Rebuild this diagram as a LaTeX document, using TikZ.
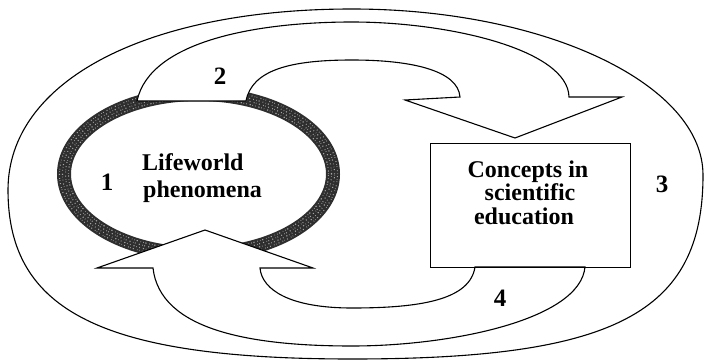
\documentclass[tikz,border=0pt]{standalone}
\usepackage{fontspec}
\setmainfont{Liberation Serif}
\begin{document}
\begin{tikzpicture}[x=1pt,y=-1pt,
  outline/.style={draw=black, line width=1.1pt, line join=miter},
  bigarrow/.style={outline, fill=white},
  lbl/.style={font=\fontsize{24}{26}\selectfont\bfseries, inner sep=0pt},
  num/.style={font=\fontsize{25}{27}\selectfont\bfseries, inner sep=0pt},
  ringbase/.style={line width=14pt, draw=black!82},
  ringspeck/.style={line width=1.1pt, draw=black!35}]
\useasboundingbox (0,0) rectangle (704,361);
% outer closed loop
\coordinate (oL) at (8,190);
\coordinate (oT) at (352,9);
\coordinate (oR) at (703,175);
\coordinate (oB) at (352,359);
\draw[outline] (oL) .. controls (8,81) and (146,9) .. (oT)
  .. controls (545,9) and (703,84) .. (oR)
  .. controls (703,313) and (615,359) .. (oB)
  .. controls (104,359) and (8,312) .. (oL) -- cycle;
% lifeworld ring
\coordinate (rc) at (198.5,174);
\draw[ringbase] (rc) ellipse [x radius=134.5pt, y radius=80pt];
\draw[ringspeck, dash pattern=on 0.6pt off 1.7pt on 1.2pt off 2.9pt on 0.5pt off 2.2pt]
  (rc) ellipse [x radius=130pt, y radius=75.5pt];
\draw[ringspeck, dash pattern=on 1pt off 2.6pt on 0.5pt off 1.5pt on 0.8pt off 3.3pt]
  (rc) ellipse [x radius=133pt, y radius=78.5pt];
\draw[ringspeck, dash pattern=on 0.7pt off 3.1pt on 1.1pt off 1.9pt on 0.5pt off 2.5pt]
  (rc) ellipse [x radius=136pt, y radius=81.5pt];
\draw[ringspeck, dash pattern=on 0.5pt off 2.3pt on 0.9pt off 3.4pt on 0.6pt off 1.6pt]
  (rc) ellipse [x radius=139pt, y radius=84.5pt];
% arrow 2 (top)
\draw[bigarrow] (137,101) .. controls (150,40) and (260,22) .. (352,22)
  .. controls (450,22) and (568,50) .. (569,97) -- (622,97) -- (515,138)
  -- (405,100) -- (460,97) .. controls (458,70) and (410,60) .. (352,60)
  .. controls (290,60) and (252,70) .. (246,101) -- cycle;
% arrow 4 (bottom)
\draw[bigarrow] (475,267) .. controls (470,300) and (420,308) .. (352,308)
  .. controls (290,308) and (262,290) .. (260,268) -- (313,268) -- (205,230)
  -- (97,268) -- (153,268) .. controls (160,330) and (250,346) .. (352,346)
  .. controls (450,346) and (580,320) .. (585,267) -- cycle;
% box
\node[draw, line width=1.1pt, minimum width=200pt, minimum height=124pt,
  inner sep=0pt, anchor=north west] (box) at (430,143) {};
% texts
\node[lbl, anchor=base west] (l1) at (142,170) {Lifeworld};
\node[lbl, anchor=base west] (l2) at (143,197) {phenomena};
\node[lbl, anchor=base] (c1) at (528,177) {Concepts in};
\node[lbl, anchor=base] (c2) at (530,200) {scientific};
\node[lbl, anchor=base] (c3) at (524,224) {education};
\node[num] (n1) at (107,182) {1};
\node[num] (n2) at (220,76) {2};
\node[num] (n3) at (662,184) {3};
\node[num] (n4) at (500,298) {4};
\end{tikzpicture}
\end{document}
